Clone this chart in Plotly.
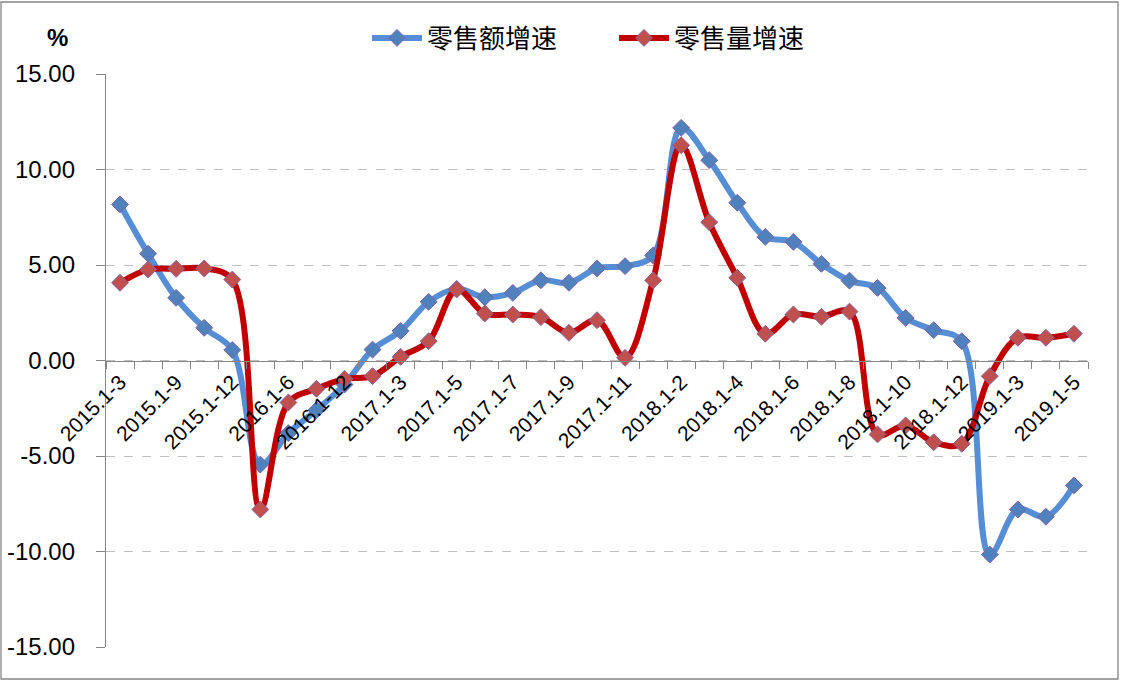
import plotly.graph_objects as go

categories = ["2015.1-3", "2015.1-6", "2015.1-9", "2015.1-11", "2015.1-12",
              "2016.1-3", "2016.1-6", "2016.1-9", "2016.1-12", "2017.1-2",
              "2017.1-3", "2017.1-4", "2017.1-5", "2017.1-6", "2017.1-7",
              "2017.1-8", "2017.1-9", "2017.1-10", "2017.1-11", "2017.1-12",
              "2018.1-2", "2018.1-3", "2018.1-4", "2018.1-5", "2018.1-6",
              "2018.1-7", "2018.1-8", "2018.1-9", "2018.1-10", "2018.1-11",
              "2018.1-12", "2019.1-2", "2019.1-3", "2019.1-4", "2019.1-5"]

sales_value_growth = [8.17, 5.59, 3.28, 1.71, 0.55, -5.45, -3.8, -2.6, -1.26, 0.57,
                      1.55, 3.07, 3.75, 3.31, 3.54, 4.2, 4.07, 4.82, 4.94, 5.5,
                      12.18, 10.49, 8.26, 6.47, 6.21, 5.06, 4.18, 3.8, 2.23, 1.59,
                      1.01, -10.16, -7.8, -8.18, -6.54]

sales_volume_growth = [4.07, 4.76, 4.8, 4.82, 4.24, -7.8, -2.2, -1.48, -0.96, -0.82,
                       0.19, 1.01, 3.72, 2.46, 2.41, 2.27, 1.45, 2.11, 0.14, 4.2,
                       11.27, 7.24, 4.33, 1.4, 2.41, 2.29, 2.56, -3.87, -3.4, -4.28,
                       -4.36, -0.82, 1.19, 1.19, 1.4]

series_names = ["零售额增速", "零售量增速"]
y_ticks = [-15, -10, -5, 0, 5, 10, 15]
y_tick_text = ["%.2f" % v for v in y_ticks]

xs = list(range(len(categories)))
label_idx = xs[::2]

fig = go.Figure()
fig.add_trace(go.Scatter(
    x=xs, y=sales_value_growth, name=series_names[0], mode="lines+markers",
    line=dict(color="#558ED5", width=6, shape="spline", smoothing=1.0),
    marker=dict(symbol="diamond", size=13, color="#4F81BD",
                line=dict(color="#7F62A8", width=1)),
))
fig.add_trace(go.Scatter(
    x=xs, y=sales_volume_growth, name=series_names[1], mode="lines+markers",
    line=dict(color="#C00000", width=6, shape="spline", smoothing=1.0),
    marker=dict(symbol="diamond", size=13, color="#C0504D",
                line=dict(color="#8064A2", width=1)),
))

W, H = 1121, 681
L, R, T, B = 106, 33, 74, 34
pw, ph = W - L - R, H - T - B

def px(xp):
    return (xp - L) / pw

def py(yp):
    return (H - B - yp) / ph

fig.update_layout(
    width=W, height=H,
    margin=dict(l=L, r=R, t=T, b=B, autoexpand=False),
    paper_bgcolor="white", plot_bgcolor="white",
    font=dict(family="Liberation Sans, Arial, sans-serif", color="black"),
    showlegend=True,
    legend=dict(orientation="h", x=px(614), xanchor="center", y=py(38), yanchor="middle",
                font=dict(size=26, family="Noto Sans CJK SC"),
                itemwidth=50, entrywidth=182, bgcolor="rgba(0,0,0,0)"),
    xaxis=dict(
        range=[-0.5, len(categories) - 0.5],
        tickmode="array", tickvals=label_idx,
        ticktext=[categories[i] for i in label_idx],
        tickangle=-45, tickfont=dict(size=21),
        ticks="", showgrid=False, zeroline=False,
        showline=True, linecolor="#868686", linewidth=1.3,
        anchor="free", position=0.5,
        minor=dict(ticks="outside", tick0=0.5, dtick=1, ticklen=7,
                   tickcolor="#868686", showgrid=False),
    ),
    yaxis=dict(
        range=[-15, 15], tickmode="array", tickvals=y_ticks, ticktext=y_tick_text,
        tickfont=dict(size=24), ticklabelstandoff=16,
        ticks="outside", ticklen=9, tickcolor="#868686",
        showline=True, linecolor="#868686", linewidth=1.3,
        showgrid=True, gridcolor="#BFBFBF", griddash="dash", gridwidth=1,
        zeroline=False,
    ),
    annotations=[dict(text="<b>%</b>", x=px(57), y=py(38), xref="paper", yref="paper",
                      showarrow=False, font=dict(size=24), xanchor="center",
                      yanchor="middle")],
    shapes=[dict(type="rect", xref="paper", yref="paper",
                 x0=px(1), x1=px(1118), y0=py(679), y1=py(2),
                 line=dict(color="#868686", width=1.3), layer="below")],
)

fig.write_html("out.html", config={"displayModeBar": False},
               post_script="document.body.style.margin='0px';")
